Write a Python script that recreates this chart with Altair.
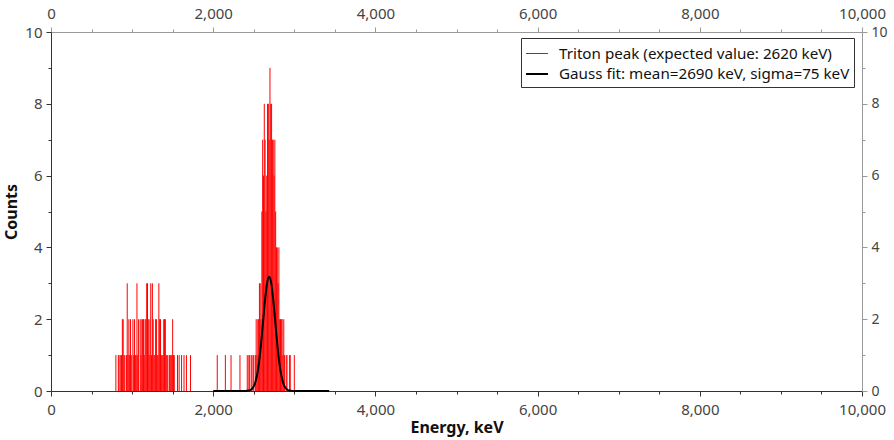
import altair as alt
import pandas as pd

# Histogram bins (keV) and counts
energies = [800, 830, 840, 860, 870, 880, 890, 900, 910, 930, 940, 950, 960, 970, 980, 990,
            1010, 1020, 1030, 1040, 1050, 1060, 1070, 1080, 1100, 1110, 1120, 1130, 1140, 1150,
            1160, 1170, 1180, 1190, 1200, 1210, 1220, 1230, 1240, 1250, 1260, 1270, 1280, 1290,
            1300, 1310, 1320, 1330, 1340, 1350, 1360, 1370, 1380, 1390, 1400, 1410, 1420, 1430,
            1440, 1460, 1470, 1480, 1490, 1500, 1510, 1520, 1560, 1580, 1610, 1640, 1670, 1720,
            2050, 2150, 2220, 2330, 2420, 2440, 2450, 2470, 2490, 2500, 2520,
            2530, 2540, 2550, 2560, 2570, 2580, 2590, 2600, 2610, 2620, 2630, 2640, 2650, 2660,
            2670, 2680, 2690, 2700, 2710, 2720, 2730, 2740, 2750, 2760, 2770, 2780, 2790, 2800,
            2810, 2820, 2830, 2840, 2850, 2860, 2870, 2880, 2900, 2910, 2940, 2950, 3000]
counts = [1, 1, 1, 1, 1, 2, 2, 1, 1, 1, 3, 1, 2, 1, 2, 1,
          2, 1, 2, 1, 1, 3, 1, 2, 2, 1, 2, 2, 2, 1,
          2, 2, 3, 3, 2, 1, 2, 3, 1, 3, 2, 1, 1, 2,
          2, 1, 1, 3, 2, 2, 1, 1, 1, 2, 2, 2, 1, 1,
          1, 1, 1, 1, 1, 2, 1, 1, 1, 1, 1, 1, 1, 1,
          1, 1, 1, 1, 1, 1, 1, 1, 1, 1, 1,
          2, 1, 2, 2, 3, 3, 2, 5, 7, 6, 8, 7, 5, 6,
          8, 8, 7, 9, 8, 8, 7, 7, 6, 7, 5, 4, 4, 3,
          4, 2, 2, 2, 2, 1, 2, 1, 1, 1, 1, 1, 1]

# Gauss fit curve
fit_x = [2000, 2100, 2200, 2300, 2400, 2440, 2465, 2490, 2515, 2540, 2565, 2590, 2615, 2640,
         2665, 2690, 2715, 2740, 2765, 2790, 2815, 2840, 2865, 2890, 2915, 2940, 2980, 3100,
         3200, 3300, 3430]
fit_y = [0, 0, 0, 0, 0.002, 0.012, 0.035, 0.09, 0.21, 0.43, 0.79, 1.31, 1.93, 2.55,
         3.01, 3.18, 3.01, 2.55, 1.93, 1.31, 0.79, 0.43, 0.21, 0.09, 0.035, 0.012, 0.002, 0,
         0, 0, 0]

series = ["Triton peak (expected value: 2620 keV)", "Gauss fit: mean=2690 keV, sigma=75 keV"]

hist = pd.DataFrame({"energy": energies, "count": counts, "series": series[0]})
fit = pd.DataFrame({"energy": fit_x, "count": fit_y, "series": series[1]})

FONT = "Noto Sans"
xs = alt.Scale(domain=[0, 10000], nice=False, zero=False)
ys = alt.Scale(domain=[0, 10], nice=False)
xvals = list(range(0, 10001, 500))
yvals = list(range(0, 11))
xlab = "datum.value % 2000 == 0 ? format(datum.value, ',') : ''"
ylab = "datum.value % 2 == 0 ? datum.value : ''"
xtick = {"condition": {"test": "datum.value % 2000 == 0", "value": 5}, "value": 3}
ytick = {"condition": {"test": "datum.value % 2 == 0", "value": 5}, "value": 3}


def legend():
    return alt.Legend(title=None, orient="none", legendX=470, legendY=6,
                      symbolType="stroke", symbolSize=480, labelFontSize=15.2, labelLimit=0,
                      labelFont=FONT, labelColor="#111", strokeColor="#333",
                      fillColor="white", padding=4, rowPadding=0, labelOffset=10)


color = alt.Color("series:N", scale=alt.Scale(domain=series, range=["#ff0000", "#000000"]),
                  legend=legend())
sw = alt.StrokeWidth("series:N", scale=alt.Scale(domain=series, range=[1, 2]), legend=legend())

common = dict(grid=False, labelColor="#444", labelFont=FONT,
              labelFlush=False, labelOverlap=False)

rules = alt.Chart(hist).mark_rule().encode(
    x=alt.X("energy:Q", scale=xs,
            axis=alt.Axis(orient="bottom", title="Energy, keV", values=xvals, labelExpr=xlab,
                          tickSize=xtick, domainColor="#333", tickColor="#333",
                          labelFontSize=15,
                          titleFont=FONT, titleFontSize=16, titleFontWeight="bold",
                          titleColor="#111", labelPadding=6, titlePadding=2, **common)),
    y=alt.Y("count:Q", scale=ys,
            axis=alt.Axis(orient="left", title="Counts", values=yvals, labelExpr=ylab,
                          tickSize=ytick, domainColor="#333", tickColor="#333",
                          labelFontSize=15,
                          titleFont=FONT, titleFontSize=16, titleFontWeight="bold",
                          titleColor="#111", labelPadding=4, titlePadding=5, **common)),
    y2=alt.datum(0),
    color=color,
    strokeWidth=sw,
)

line = alt.Chart(fit).mark_line(interpolate="monotone").encode(
    x=alt.X("energy:Q", scale=xs,
            axis=alt.Axis(orient="top", title=None, values=xvals, labelExpr=xlab,
                          tickSize=xtick, domainColor="#999", tickColor="#999",
                          labelFontSize=15, labelPadding=6, **common)),
    y=alt.Y("count:Q", scale=ys,
            axis=alt.Axis(orient="right", title=None, values=yvals, labelExpr=ylab,
                          tickSize=ytick, domainColor="#999", tickColor="#999",
                          labelFontSize=14, labelPadding=4, **common)),
    color=color,
    strokeWidth=sw,
)

chart = alt.layer(rules, line).resolve_axis(x="independent", y="independent").properties(
    width=811, height=359,
    padding={"left": 51, "top": 32, "right": 32, "bottom": 49},
    autosize=alt.AutoSizeParams(type="none"),
).configure_view(stroke=None).configure(background="white")

chart.save("out.html", embed_options={"renderer": "svg", "actions": False})
